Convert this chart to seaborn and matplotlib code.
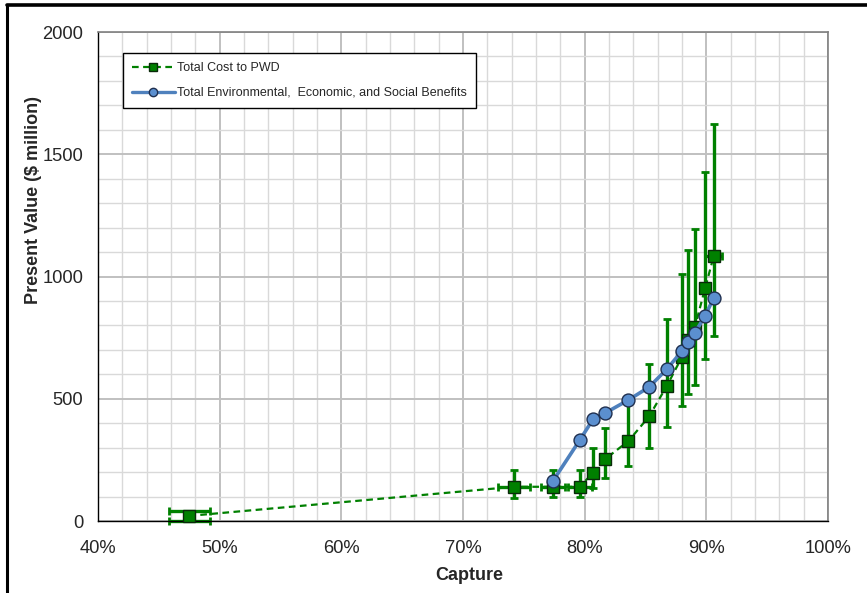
import matplotlib
matplotlib.use("Agg")
import matplotlib.pyplot as plt
from matplotlib.lines import Line2D
from matplotlib.ticker import MultipleLocator, FuncFormatter
import numpy as np
import pandas as pd
import seaborn as sns

# Total cost to PWD (capture %, present value $M, with uncertainty ranges)
cost_capture = [47.5, 47.5, 74.2, 77.4, 79.6, 80.7, 81.7, 83.6, 85.3, 86.75, 88.0, 88.5, 89.05, 89.9, 90.6]
cost_value = [0, 42, 140, 140, 140, 198, 254, 327, 428, 552, 671, 740, 792, 952, 1082]
cost_low = [0, 42, 95, 98, 98, 135, 174, 225, 298, 385, 470, 518, 556, 663, 755]
cost_high = [0, 42, 209, 209, 209, 298, 380, 490, 642, 826, 1010, 1108, 1194, 1427, 1624]
cost_xerr = [1.7, 1.7, 1.3, 1.0, 1.0, 0, 0, 0, 0, 0, 0, 0, 0, 0, 0.7]

# Total environmental, economic and social benefits
ben_capture = [77.4, 79.6, 80.7, 81.7, 83.6, 85.3, 86.75, 88.0, 88.5, 89.05, 89.9, 90.6]
ben_value = [164, 331, 417, 442, 495, 548, 621, 695, 732, 769, 839, 912]

x_ticks = [40, 50, 60, 70, 80, 90, 100]
y_ticks = [0, 500, 1000, 1500, 2000]

GREEN = "#008000"
BLUE_LINE = "#4F81BD"
BLUE_FILL = "#5B8FCF"

sns.set_style("white")
plt.rcParams["font.family"] = ["Liberation Sans", "DejaVu Sans"]

fig = plt.figure(figsize=(8.67, 5.93), dpi=100)
ax = fig.add_axes([0.113, 0.1214, 0.842, 0.8246])

cost_df = pd.DataFrame({"Capture": cost_capture, "Value": cost_value})
ben_df = pd.DataFrame({"Capture": ben_capture, "Value": ben_value})

# grid
ax.xaxis.set_major_locator(MultipleLocator(10))
ax.xaxis.set_minor_locator(MultipleLocator(2))
ax.yaxis.set_major_locator(MultipleLocator(500))
ax.yaxis.set_minor_locator(MultipleLocator(100))
ax.grid(which="minor", color="#d9d9d9", linewidth=1.0, zorder=0)
ax.grid(which="major", color="#c0c0c0", linewidth=1.4, zorder=0)
ax.set_axisbelow(True)

# uncertainty bars for the cost series
yerr = np.array([np.array(cost_value) - np.array(cost_low),
                 np.array(cost_high) - np.array(cost_value)])
eb = ax.errorbar(cost_capture, cost_value, yerr=yerr, xerr=cost_xerr, fmt="none",
                 ecolor=GREEN, elinewidth=2.4, capsize=3, capthick=2, zorder=2)
for part in eb.get_children():
    part.set_clip_on(False)

sns.lineplot(data=cost_df, x="Capture", y="Value", ax=ax, sort=False,
             color=GREEN, linewidth=1.6, linestyle=(0, (3, 2)),
             marker="s", markersize=9.2, markerfacecolor=GREEN,
             markeredgecolor="#0a2a0a", markeredgewidth=1.0, zorder=3,
             clip_on=False)

sns.lineplot(data=ben_df, x="Capture", y="Value", ax=ax, sort=False,
             color=BLUE_LINE, linewidth=2.6,
             marker="o", markersize=9.3, markerfacecolor=BLUE_FILL,
             markeredgecolor="#1f2f4f", markeredgewidth=1.0, zorder=4,
             clip_on=False)

ax.set_xlim(40, 100)
ax.set_ylim(0, 2000)
ax.set_xticks(x_ticks)
ax.set_yticks(y_ticks)
ax.xaxis.set_major_formatter(FuncFormatter(lambda v, p: f"{v:.0f}%"))
ax.tick_params(axis="both", which="major", labelsize=13.2, direction="out",
               length=3.5, width=1, color="black")
ax.tick_params(axis="x", which="major", pad=10)
ax.tick_params(axis="y", which="major", pad=7)
ax.tick_params(axis="both", which="minor", length=0)

ax.set_xlabel("Capture", fontsize=13, fontweight="bold")
ax.set_ylabel("Present Value ($ million)", fontsize=13, fontweight="bold")
ax.xaxis.set_label_coords(0.508, -0.094)
ax.yaxis.set_label_coords(-0.076, 0.656)

for side in ["left", "bottom"]:
    ax.spines[side].set_color("black")
    ax.spines[side].set_linewidth(1.0)
for side in ["top", "right"]:
    ax.spines[side].set_color("#808080")
    ax.spines[side].set_linewidth(1.2)

handles = [
    Line2D([], [], color=GREEN, linestyle=(0, (3, 2)), linewidth=1.6,
           marker="s", markersize=6, markerfacecolor=GREEN, markeredgecolor="#0a2a0a"),
    Line2D([], [], color=BLUE_LINE, linewidth=2.4,
           marker="o", markersize=6, markerfacecolor=BLUE_FILL, markeredgecolor="#1f2f4f"),
]
leg = ax.legend(handles, ["Total Cost to PWD",
                          "Total Environmental,  Economic, and Social Benefits"],
                loc="upper left", bbox_to_anchor=(0.034, 0.957), fontsize=9,
                frameon=True, fancybox=False, framealpha=1, edgecolor="black",
                handlelength=3.4, handletextpad=0.2, labelspacing=1.0,
                borderpad=0.75, borderaxespad=0)
leg.get_frame().set_linewidth(1.0)

# outer frame of the figure (top and left edges)
fig.add_artist(Line2D([0.008, 0.008], [0, 0.991], transform=fig.transFigure,
                      color="black", linewidth=2.2))
fig.add_artist(Line2D([0.008, 1.0], [0.991, 0.991], transform=fig.transFigure,
                      color="black", linewidth=2.6))

fig.savefig("out.png", dpi=100)
